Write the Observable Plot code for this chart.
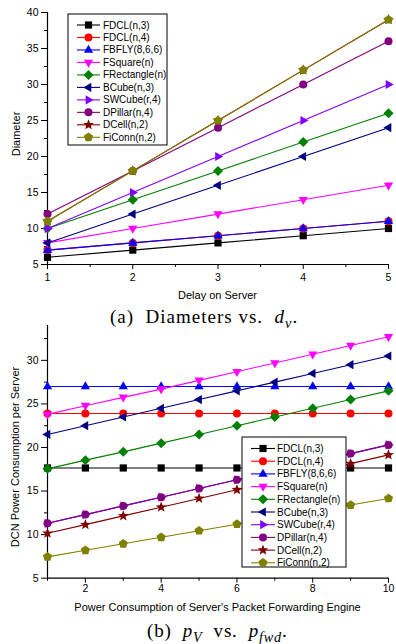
<!DOCTYPE html>
<html><head><meta charset="utf-8">
<script src="https://cdn.jsdelivr.net/npm/d3@7"></script>
<script src="https://cdn.jsdelivr.net/npm/@observablehq/plot@0.6"></script>
<style>
body{margin:0;background:#fff;}
#wrap{position:relative;width:396px;height:644px;overflow:hidden;font-family:"Liberation Sans",Arial,sans-serif;}
#wrap svg{position:absolute;left:0;}
.cap{position:absolute;text-align:left;font-family:"Liberation Serif","Times New Roman",serif;line-height:20px;white-space:nowrap;color:#000;}
.cap sub{font-size:0.75em;line-height:0;}
</style></head>
<body><div id="wrap"></div>
<script>
// ---- series definitions ----
const seriesNames = ["FDCL(n,3)","FDCL(n,4)","FBFLY(8,6,6)","FSquare(n)","FRectangle(n)","BCube(n,3)","SWCube(r,4)","DPillar(n,4)","DCell(n,2)","FiConn(n,2)"];
const seriesColors = ["#000000","#ff0000","#0000ff","#ff00ff","#008000","#000080","#8000ff","#800080","#800000","#808000"];
const seriesSymbols = ["square","circle","triangleUp","triangleDown","diamond","triangleLeft","triangleRight","circle","star","pentagon"];

// ---- chart (a): Diameters vs. delay on server ----
const delayX = [1, 2, 3, 4, 5];
const diamFDCL3 = [6, 7, 8, 9, 10];
const diamFDCL4 = [7, 8, 9, 10, 11];
const diamFBFLY = [7, 8, 9, 10, 11];
const diamFSquare = [8, 10, 12, 14, 16];
const diamFRectangle = [10, 14, 18, 22, 26];
const diamBCube = [8, 12, 16, 20, 24];
const diamSWCube = [10, 15, 20, 25, 30];
const diamDPillar = [12, 18, 24, 30, 36];
const diamDCell = [11, 18, 25, 32, 39];
const diamFiConn = [11, 18, 25, 32, 39];
const diamSeries = [diamFDCL3, diamFDCL4, diamFBFLY, diamFSquare, diamFRectangle, diamBCube, diamSWCube, diamDPillar, diamDCell, diamFiConn];
const aXTicks = [1, 2, 3, 4, 5];
const aXMinor = [1.5, 2.5, 3.5, 4.5];
const aYTicks = [5, 10, 15, 20, 25, 30, 35, 40];
const aYMinor = [7.5, 12.5, 17.5, 22.5, 27.5, 32.5, 37.5];

// ---- chart (b): power per server vs. forwarding engine power ----
const fwdX = [1, 2, 3, 4, 5, 6, 7, 8, 9, 10];
const pwFDCL3 = [17.65, 17.65, 17.65, 17.65, 17.65, 17.65, 17.65, 17.65, 17.65, 17.65];
const pwFDCL4 = [23.9, 23.9, 23.9, 23.9, 23.9, 23.9, 23.9, 23.9, 23.9, 23.9];
const pwFBFLY = [27, 27, 27, 27, 27, 27, 27, 27, 27, 27];
const pwFSquare = [23.8, 24.8, 25.75, 26.7, 27.7, 28.7, 29.7, 30.7, 31.7, 32.7];
const pwFRectangle = [17.55, 18.55, 19.5, 20.5, 21.5, 22.5, 23.5, 24.5, 25.5, 26.5];
const pwBCube = [21.5, 22.5, 23.5, 24.5, 25.5, 26.5, 27.5, 28.5, 29.5, 30.5];
const pwSWCube = [11.3, 12.3, 13.3, 14.3, 15.3, 16.3, 17.3, 18.3, 19.3, 20.3];
const pwDPillar = [11.3, 12.3, 13.3, 14.3, 15.3, 16.3, 17.3, 18.3, 19.3, 20.3];
const pwDCell = [10.15, 11.15, 12.15, 13.15, 14.15, 15.15, 16.15, 17.15, 18.15, 19.15];
const pwFiConn = [7.45, 8.2, 8.95, 9.7, 10.45, 11.2, 11.95, 12.7, 13.4, 14.15];
const pwSeries = [pwFDCL3, pwFDCL4, pwFBFLY, pwFSquare, pwFRectangle, pwBCube, pwSWCube, pwDPillar, pwDCell, pwFiConn];
const bXTicks = [2, 4, 6, 8, 10];
const bXMinor = [1, 3, 5, 7, 9];
const bYTicks = [5, 10, 15, 20, 25, 30];
const bYMinor = [7.5, 12.5, 17.5, 22.5, 27.5, 32.5];

// ---- marker shapes ----
function poly(pts) {
  return {draw(ctx, size) {
    const r = Math.sqrt(size / Math.PI);
    pts.forEach(([a, b], i) => i ? ctx.lineTo(a * r, b * r) : ctx.moveTo(a * r, b * r));
    ctx.closePath();
  }};
}
function starPts(n, ro, ri) {
  const p = [];
  for (let i = 0; i < 2 * n; i++) {
    const ang = -Math.PI / 2 + i * Math.PI / n;
    const rr = i % 2 ? ri : ro;
    p.push([rr * Math.cos(ang), rr * Math.sin(ang)]);
  }
  return p;
}
function ngonPts(n, ro) {
  const p = [];
  for (let i = 0; i < n; i++) {
    const ang = -Math.PI / 2 + i * 2 * Math.PI / n;
    p.push([ro * Math.cos(ang), ro * Math.sin(ang)]);
  }
  return p;
}
const SYM = {
  square: poly([[-0.9, -0.9], [0.9, -0.9], [0.9, 0.9], [-0.9, 0.9]]),
  circle: {draw(ctx, size) { const r = Math.sqrt(size / Math.PI); ctx.moveTo(r, 0); ctx.arc(0, 0, r, 0, 2 * Math.PI); ctx.closePath(); }},
  triangleUp: poly([[0, -1.3], [1.15, 0.7], [-1.15, 0.7]]),
  triangleDown: poly([[0, 1.3], [1.15, -0.7], [-1.15, -0.7]]),
  triangleLeft: poly([[-1.3, 0], [0.7, -1.15], [0.7, 1.15]]),
  triangleRight: poly([[1.3, 0], [-0.7, -1.15], [-0.7, 1.15]]),
  diamond: poly([[0, -1.25], [1.25, 0], [0, 1.25], [-1.25, 0]]),
  star: poly(starPts(5, 1.4, 0.6)),
  pentagon: poly(ngonPts(5, 1.2))
};
const R = 4;
const fmtInt = d3.format("d");

function makeChart(o) {
  const marks = [
    Plot.axisX({ticks: o.xTicks, tickSize: 5, tickPadding: o.xPad, tickFormat: fmtInt, label: null}),
    Plot.axisX(o.xMinor, {tickSize: 3, tickFormat: () => "", label: null}),
    Plot.axisY({ticks: o.yTicks, tickSize: 6, tickPadding: 3, tickFormat: fmtInt, label: null}),
    Plot.axisY(o.yMinor, {tickSize: 3, tickFormat: () => "", label: null}),
    Plot.ruleX([o.xDomain[0]], {stroke: "#000", strokeWidth: 1.2}),
    Plot.ruleY([o.yDomain[0]], {stroke: "#000", strokeWidth: 1.2})
  ];
  o.series.forEach((vals, i) => {
    const data = o.xs.map((x, j) => ({x, y: vals[j]}));
    marks.push(Plot.line(data, {x: "x", y: "y", stroke: seriesColors[i], strokeWidth: 1.1}));
    marks.push(Plot.dot(data, {x: "x", y: "y", symbol: SYM[seriesSymbols[i]], fill: seriesColors[i], stroke: "none", r: R}));
  });
  const svg = Plot.plot({
    width: 396, height: o.height,
    marginLeft: 47, marginRight: 8, marginTop: o.marginTop, marginBottom: o.marginBottom,
    x: {domain: o.xDomain},
    y: {domain: o.yDomain},
    style: {fontFamily: "'Liberation Sans', Arial, sans-serif", fontSize: "10.5px", color: "#000", background: "transparent"},
    marks
  });
  const g = d3.select(svg);
  g.append("text").attr("x", 217.5).attr("y", o.xTitleY).attr("text-anchor", "middle")
    .attr("font-size", 11).attr("fill", "#000").text(o.xTitle);
  g.append("text").attr("transform", `translate(${o.yTitleX},${o.yTitleCY}) rotate(-90)`).attr("text-anchor", "middle")
    .attr("font-size", 11).attr("fill", "#000").text(o.yTitle);
  // legend
  const L = o.legend;
  const lg = g.append("g").attr("font-size", 10).attr("fill", "#000").attr("text-anchor", "start");
  lg.append("rect").attr("x", L.x0).attr("y", L.y0).attr("width", L.w).attr("height", L.h)
    .attr("fill", "#fff").attr("stroke", "#000").attr("stroke-width", 1);
  seriesNames.forEach((name, i) => {
    const y = L.row0 + i * L.dy;
    lg.append("line").attr("x1", L.lx0).attr("x2", L.lx1).attr("y1", y).attr("y2", y)
      .attr("stroke", seriesColors[i]).attr("stroke-width", 1.1);
    lg.append("path").attr("transform", `translate(${L.mx},${y})`)
      .attr("d", d3.symbol(SYM[seriesSymbols[i]], R * R * Math.PI)())
      .attr("fill", seriesColors[i]);
    lg.append("text").attr("x", L.tx).attr("y", y).attr("dy", "0.35em").attr("text-anchor", "start").text(name);
  });
  return svg;
}

const wrap = document.getElementById("wrap");

const svgA = makeChart({
  xs: delayX, series: diamSeries, xDomain: [1, 5], yDomain: [5, 40],
  xTicks: aXTicks, xMinor: aXMinor, yTicks: aYTicks, yMinor: aYMinor,
  height: 305, marginTop: 12, marginBottom: 41, xPad: 4,
  xTitle: "Delay on Server", xTitleY: 299, yTitle: "Diameter", yTitleX: 19.5, yTitleCY: 134,
  legend: {x0: 68, y0: 14, w: 99, h: 131, row0: 25, dy: 12.48, lx0: 77, lx1: 100, mx: 88.5, tx: 103}
});
svgA.style.top = "0px";
wrap.appendChild(svgA);

const capA = document.createElement("div");
capA.className = "cap";
capA.style.top = "307px";
capA.style.left = "110px";
capA.style.fontSize = "19px";
capA.style.letterSpacing = "1px";
capA.innerHTML = "(a)&nbsp; Diameters vs.&nbsp; <i>d</i><sub><i>v</i></sub>.";
wrap.appendChild(capA);

const svgB = makeChart({
  xs: fwdX, series: pwSeries, xDomain: [1, 10], yDomain: [5, 34],
  xTicks: bXTicks, xMinor: bXMinor, yTicks: bYTicks, yMinor: bYMinor,
  height: 296, marginTop: 5, marginBottom: 38.3, xPad: 1,
  xTitle: "Power Consumption of Server's Packet Forwarding Engine", xTitleY: 290.5,
  yTitle: "DCN Power Consumption per Server", yTitleX: 18.5, yTitleCY: 137,
  legend: {x0: 242, y0: 117, w: 104, h: 130, row0: 128.5, dy: 12.7, lx0: 251, lx1: 275, mx: 263, tx: 277}
});
svgB.style.top = "320px";
wrap.appendChild(svgB);

const capB = document.createElement("div");
capB.className = "cap";
capB.style.top = "621px";
capB.style.left = "147px";
capB.style.fontSize = "19px";
capB.style.letterSpacing = "0.8px";
capB.innerHTML = "(b)&nbsp; <i>p<sub>V</sub></i>&nbsp; vs.&nbsp; <i>p<sub>fwd</sub></i>.";
wrap.appendChild(capB);
</script>
</body></html>
